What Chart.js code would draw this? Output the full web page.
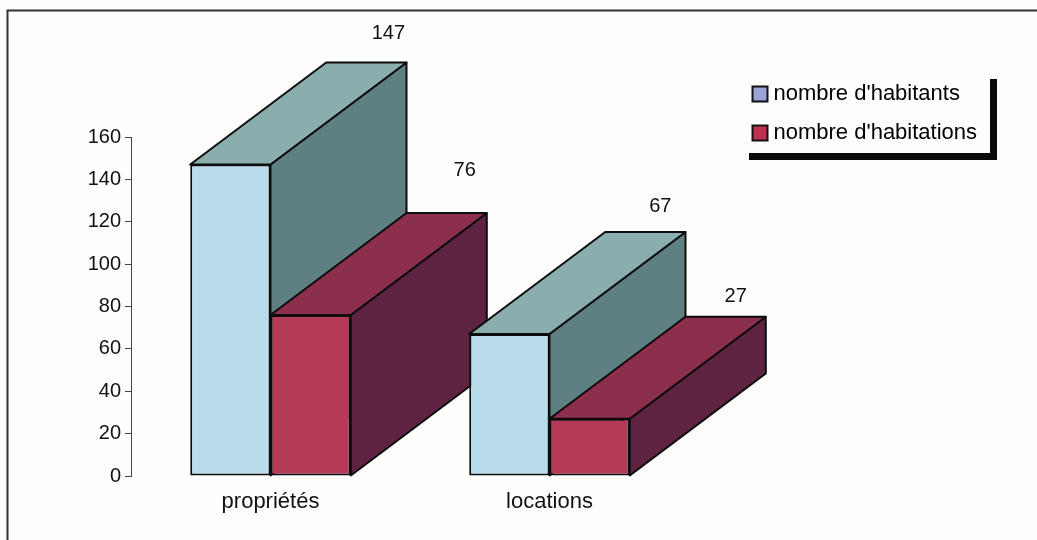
<!DOCTYPE html>
<html><head><meta charset="utf-8">
<style>html,body{margin:0;padding:0;background:#fdfdfc;overflow:hidden}#w{position:relative;width:1037px;height:540px}</style>
<script src="https://cdn.jsdelivr.net/npm/chart.js@4"></script>
</head><body><div id="w"><canvas id="c" width="1037" height="540"></canvas></div>
<script>
const categories = ["propriétés", "locations"];
const habitants = [147, 67];
const habitations = [76, 27];
const tickStep = 20;
const yMax = 160;
const depth = {x: 136, y: -102};
const labelOffsets = [[[158, -131], [154, -144]], [[151, -128], [146, -122]]];
const palette = [
  {front: "#b9dcec", top: "#8aadae", side: "#5f8083"},
  {front: "#b53a57", top: "#8c2f4d", side: "#5e2340"}
];
const FONT = "Liberation Sans, Arial, sans-serif";
const three = {
  id: "three",
  beforeDatasetsDraw(chart) {
    const ctx = chart.ctx;
    categories.forEach((_, i) => {
      [0, 1].forEach(d => {
        const b = chart.getDatasetMeta(d).data[i];
        const l = b.x - b.width / 2, r = b.x + b.width / 2, t = b.y, bt = b.base;
        const poly = (pts, col) => {
          ctx.beginPath();
          pts.forEach((p, k) => k ? ctx.lineTo(p[0], p[1]) : ctx.moveTo(p[0], p[1]));
          ctx.closePath();
          ctx.fillStyle = col; ctx.fill();
          ctx.lineWidth = 2; ctx.strokeStyle = "#0c0c0c"; ctx.lineJoin = "round"; ctx.stroke();
        };
        poly([[r, t], [r + depth.x, t + depth.y], [r + depth.x, bt + depth.y], [r, bt]], palette[d].side);
        poly([[l, t], [l + depth.x, t + depth.y], [r + depth.x, t + depth.y], [r, t]], palette[d].top);
      });
    });
  },
  afterDatasetsDraw(chart) {
    const ctx = chart.ctx;
    ctx.save();
    ctx.font = "20px " + FONT; ctx.fillStyle = "#111"; ctx.textAlign = "center"; ctx.textBaseline = "middle";
    categories.forEach((_, i) => {
      [0, 1].forEach(d => {
        const b = chart.getDatasetMeta(d).data[i];
        const o = labelOffsets[i][d];
        ctx.fillText(String(chart.data.datasets[d].data[i]), b.x + o[0], b.y + o[1]);
      });
    });
    ctx.restore();
  }
};
const frame = {
  id: "frame",
  beforeDraw(chart) {
    const ctx = chart.ctx;
    ctx.save();
    ctx.strokeStyle = "#333"; ctx.lineWidth = 2;
    ctx.beginPath();
    ctx.moveTo(1037, 10.5); ctx.lineTo(7.5, 10.5); ctx.lineTo(7.5, 540);
    ctx.stroke();
    ctx.fillStyle = "#0a0a0a";
    ctx.fillRect(990, 79, 7, 81);
    ctx.fillRect(749, 153, 248, 7);
    ctx.restore();
  },
  afterLayout(chart) {
    const lg = chart.legend;
    lg.left = 740.5; lg.right = 1000; lg.top = 66; lg.bottom = 400;
  }
};
new Chart(document.getElementById("c"), {
  type: "bar",
  data: {
    labels: categories,
    datasets: [
      {label: "nombre d'habitants", data: habitants, backgroundColor: palette[0].front, borderColor: "#0c0c0c", borderWidth: 2, borderSkipped: false},
      {label: "nombre d'habitations", data: habitations, backgroundColor: palette[1].front, borderColor: "#0c0c0c", borderWidth: 2, borderSkipped: false}
    ]
  },
  options: {
    responsive: false, animation: false,
    layout: {padding: {left: 86, right: 147, top: 137, bottom: 0}},
    datasets: {bar: {categoryPercentage: 0.5755, barPercentage: 1}},
    plugins: {
      tooltip: {enabled: false},
      legend: {
        position: "right", align: "start",
        labels: {
          font: {family: FONT, size: 22}, color: "#111", boxWidth: 5, boxHeight: 15, padding: 17,
          usePointStyle: true,
          generateLabels: () => [
            {text: "nombre d'habitants", fillStyle: "#9aa3d8", strokeStyle: "#111", lineWidth: 2, pointStyle: "rect", datasetIndex: 0},
            {text: "nombre d'habitations", fillStyle: "#c2304f", strokeStyle: "#111", lineWidth: 2, pointStyle: "rect", datasetIndex: 1}
          ]
        }
      }
    },
    scales: {
      x: {
        afterFit(s) { s.height = 64; },
        grid: {display: false}, border: {display: false},
        ticks: {font: {family: FONT, size: 22}, color: "#111", padding: 5, maxRotation: 0}
      },
      y: {
        min: 0, max: yMax,
        afterFit(s) { s.width = 45; },
        grid: {display: true, drawOnChartArea: false, drawTicks: true, tickLength: 6, color: "#444"},
        border: {display: true, color: "#444", width: 1},
        ticks: {stepSize: tickStep, font: {family: FONT, size: 20}, color: "#111", padding: 4}
      }
    }
  },
  plugins: [three, frame]
});
</script></body></html>
